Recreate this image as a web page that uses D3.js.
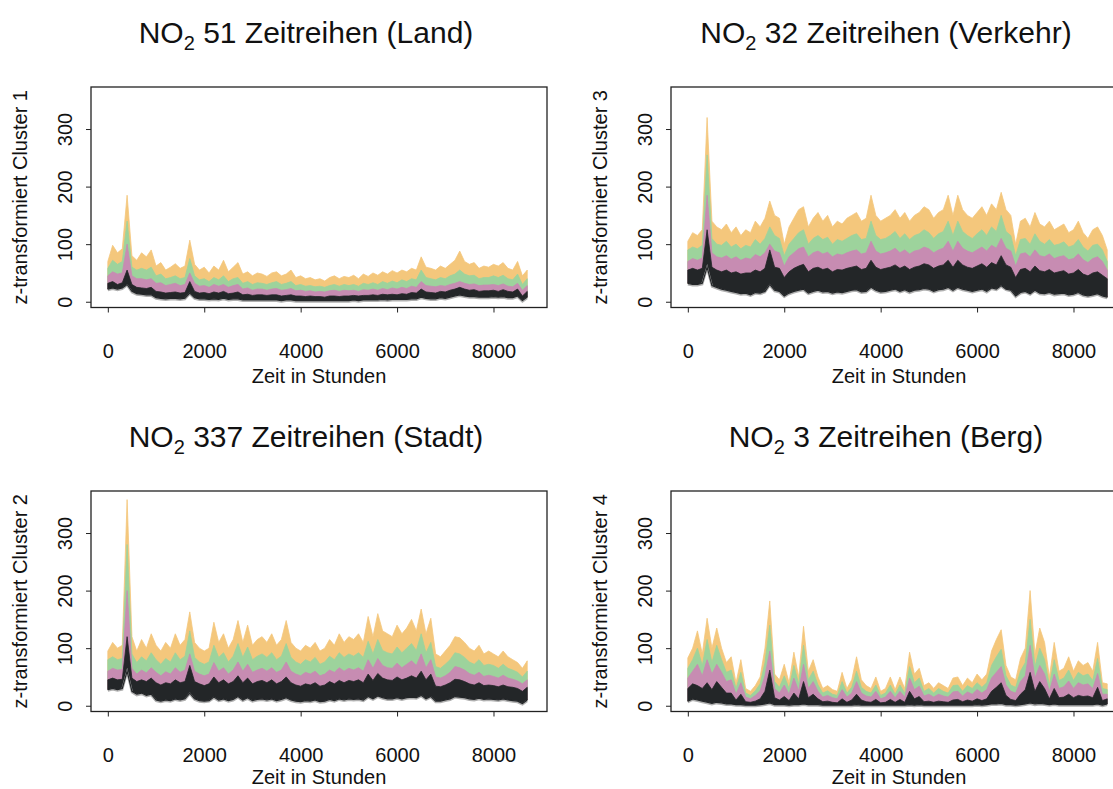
<!DOCTYPE html>
<html>
<head>
<meta charset="utf-8">
<script src="https://cdn.jsdelivr.net/npm/d3@7"></script>
<style>
  body { margin: 0; background: #fff; }
  svg { display: block; font-family: "Liberation Sans", Arial, sans-serif; }
</style>
</head>
<body>
<div id="chart"></div>
<script>
// hourly index, sampled every 100 hours
const hours = d3.range(0, 8800, 100)
const xTicks = [0, 2000, 4000, 6000, 8000]
const yTicks = [0, 100, 200, 300]

// Cluster 1 (Land)
const land_lo  = [22,24,22,24,30,18,14,13,12,12, 7,6,5,6,6,5,6,15,7,5, 5,4,5,4,6,4,5,5,3,3, 3,3,3,3,3,3,2,3,3,2, 2,2,2,2,2,2,2,2,2,2, 2,3,2,3,3,3,3,4,3,4, 4,4,4,5,5,8,6,5,5,7, 6,8,10,12,10,9,9,8,8,8, 9,8,9,7,7,10,2,8]
const land_blk = [32,35,30,33,55,30,25,24,23,25, 18,17,15,16,17,15,16,35,18,15, 16,14,17,15,18,14,15,17,12,13, 11,12,12,11,12,12,10,11,12,10, 10,9,10,9,9,8,10,10,9,10, 10,11,10,11,11,12,11,13,12,13, 12,14,13,16,15,22,17,16,15,18, 17,20,22,25,22,20,21,18,19,19, 20,18,21,18,17,22,10,18]
const land_pnk = [45,52,48,50,100,45,40,40,38,40, 32,33,28,30,32,28,30,50,32,27, 28,25,30,27,30,25,28,30,22,24, 20,22,22,20,22,23,20,21,23,19, 20,18,19,17,18,17,19,20,18,20, 19,20,18,21,20,22,20,23,21,24, 22,25,23,27,25,35,28,27,26,28, 27,30,32,35,32,30,31,28,29,29, 30,28,31,27,26,32,20,28]
const land_grn = [58,72,65,70,140,60,55,58,55,60, 45,48,40,42,45,40,42,75,45,38, 40,35,42,38,45,35,40,42,32,35, 30,33,32,30,33,35,30,32,35,28, 30,27,28,26,27,25,28,30,27,30, 28,30,27,32,30,33,30,35,32,36, 33,38,35,40,38,55,42,40,38,42, 40,45,48,55,48,45,46,40,42,42, 45,42,46,40,38,48,30,40]
const land_org = [70,98,85,92,185,80,72,85,78,90, 62,68,55,60,66,58,62,107,65,55, 60,50,62,55,72,52,60,68,48,52, 45,50,48,44,50,52,45,48,55,42, 45,40,42,38,40,36,42,45,40,44, 42,46,40,48,44,50,46,52,48,54, 50,55,52,58,55,78,60,58,55,62, 58,65,72,88,70,65,68,58,62,60, 65,62,68,58,55,70,45,55]

// Cluster 3 (Verkehr)
const verk_lo  = [32,30,30,32,60,28,25,22,20,18, 16,14,15,12,16,15,18,30,20,18, 10,15,18,20,22,15,18,20,17,18, 15,17,16,18,20,21,17,18,25,20, 17,18,20,22,18,21,17,20,21,23, 22,18,21,22,25,20,25,22,20,18, 20,22,18,24,22,28,22,20,10,16, 18,14,20,15,14,16,13,14,15,12, 13,16,12,10,12,14,10,8]
const verk_blk = [55,58,55,58,125,60,55,52,55,50, 52,48,50,50,55,52,58,90,60,58, 42,52,58,62,65,52,58,60,56,58, 52,56,55,58,60,62,56,58,72,60, 56,58,60,64,58,62,56,60,62,66, 64,58,62,64,72,60,72,64,60,58, 62,66,60,68,64,80,64,60,42,56, 58,52,62,54,52,56,50,52,54,48, 50,56,48,45,50,52,46,40]
const verk_pnk = [70,75,72,76,185,85,78,76,80,74, 78,72,76,74,82,78,85,100,88,85, 62,78,85,92,95,78,85,88,83,86, 78,83,81,85,88,90,83,85,105,88, 83,85,88,93,85,90,83,88,90,95, 92,85,90,93,105,88,105,93,88,85, 90,95,88,98,93,110,93,88,62,83, 85,78,90,80,78,83,75,78,80,73, 75,83,73,68,75,78,70,55]
const verk_grn = [90,95,92,98,255,110,100,98,105,95, 100,92,98,95,108,100,110,130,115,110, 80,100,110,120,125,100,110,115,108,112, 100,108,105,110,115,118,108,110,140,115, 108,110,115,122,110,118,108,115,118,125, 120,110,118,122,140,115,140,122,115,110, 118,125,115,130,122,150,122,115,80,108, 110,100,118,105,100,108,98,100,104,95, 98,108,95,88,98,100,90,70]
const verk_org = [105,120,115,125,320,140,130,125,135,120, 130,115,125,120,140,130,145,175,150,145, 100,130,145,160,165,130,145,155,140,150, 130,140,135,145,150,155,140,145,185,150, 140,145,150,160,145,155,140,150,155,165, 160,145,155,160,185,150,185,160,150,145, 155,165,150,170,160,190,160,150,100,140, 145,130,155,135,130,140,125,130,135,120, 125,140,120,110,125,130,115,90]

// Cluster 2 (Stadt)
const stadt_lo  = [28,30,28,30,60,25,20,22,18,20, 10,8,10,9,12,10,12,22,12,9, 8,9,15,10,12,9,11,16,10,14, 9,11,12,10,12,9,11,14,10,8, 7,9,8,10,7,8,11,9,12,10, 12,11,12,10,16,12,17,14,12,12, 14,12,14,15,14,18,12,16,8,8, 10,12,16,15,14,12,11,13,11,12, 11,10,12,10,9,8,4,10]
const stadt_blk = [45,48,45,46,120,48,42,45,42,48, 40,36,40,38,45,40,42,70,42,38, 35,38,50,40,45,38,42,52,40,48, 38,42,44,40,45,38,42,50,40,36, 34,38,36,40,34,36,42,38,44,40, 44,42,45,40,55,44,56,48,45,44, 50,45,48,52,48,60,45,55,34,33, 36,40,46,45,42,38,36,40,35,36, 35,33,36,33,32,30,25,32]
const stadt_pnk = [60,65,62,63,200,65,55,62,57,66, 58,52,59,55,66,58,62,90,60,55, 52,55,75,60,66,55,62,76,60,72, 58,62,65,60,66,58,62,76,60,55, 52,58,55,60,52,55,62,58,66,60, 65,62,66,60,80,65,82,70,66,65, 74,66,72,78,70,90,66,80,50,48, 52,58,68,66,62,56,53,58,51,53, 51,48,53,48,46,43,38,45]
const stadt_grn = [80,85,80,82,280,90,75,85,78,92, 80,72,82,76,92,80,86,130,84,76, 72,76,105,84,92,76,86,108,84,102, 80,86,90,84,92,80,86,108,84,76, 72,80,76,84,72,76,86,80,92,84, 90,86,92,84,112,90,115,96,92,90, 102,92,100,108,96,125,92,110,68,65, 72,80,92,90,84,76,72,80,70,72, 70,65,72,65,62,58,50,60]
const stadt_org = [95,110,100,105,358,120,95,115,100,125, 105,95,110,100,125,105,115,163,110,100, 95,100,145,110,125,100,115,148,110,140, 105,115,120,110,125,105,115,148,110,100, 95,105,100,110,95,100,115,105,125,110, 120,115,125,110,155,120,160,130,125,120, 140,125,135,150,130,168,125,152,90,85, 95,105,120,118,110,100,95,105,90,95, 90,85,95,85,80,75,65,78]

// Cluster 4 (Berg)
const berg_lo  = [8,12,10,8,6,4,6,5,3,3, 2,2,1,1,1,2,3,5,2,2, 2,1,2,2,3,2,2,2,1,1, 1,1,1,1,1,2,1,1,1,1, 1,1,1,1,1,1,2,1,2,1, 1,1,1,1,1,1,1,1,1,1, 2,1,2,3,3,4,2,2,1,2, 3,5,3,4,3,2,3,2,2,2, 2,2,2,2,2,3,1,3]
const berg_blk = [30,38,35,30,40,28,42,32,22,22, 10,20,7,6,8,12,25,62,14,10, 16,9,22,12,42,14,20,12,7,8, 6,5,12,6,10,20,10,7,6,11, 5,6,11,6,11,6,25,12,16,7, 8,6,8,7,6,10,11,7,10,8, 12,9,12,25,32,40,18,11,9,20, 28,58,25,42,30,12,30,14,15,20, 14,18,16,17,14,32,9,12]
const berg_pnk = [48,60,72,52,80,55,72,58,42,45, 20,40,15,12,18,26,52,95,30,22, 36,20,48,26,72,30,42,25,15,18, 14,12,28,15,22,42,22,17,15,25, 12,15,25,14,25,15,48,28,34,17, 20,15,20,17,15,24,25,17,24,20, 28,22,28,48,58,68,36,25,22,42, 52,105,48,70,55,25,55,30,33,43, 30,40,36,38,30,56,20,20]
const berg_grn = [65,80,100,70,115,75,105,80,58,62, 30,58,22,18,26,38,75,140,42,32, 52,30,70,38,105,45,60,36,22,26, 20,18,42,22,32,60,32,25,22,36, 18,22,36,20,36,22,68,40,48,25, 30,22,30,25,22,35,36,25,35,30, 40,32,40,70,85,98,52,36,32,60, 75,150,68,100,80,36,80,44,48,62, 44,58,52,55,44,82,30,28]
const berg_org = [83,100,130,90,152,100,135,100,75,85, 40,80,30,25,35,50,100,182,55,45, 72,40,93,50,138,60,80,50,30,35, 28,25,58,30,45,85,45,35,30,50, 25,30,50,28,50,30,93,55,65,35, 40,30,40,35,30,48,50,35,48,40, 55,45,55,95,115,132,70,50,45,82, 100,200,90,135,110,50,110,60,65,85, 60,78,70,75,60,110,40,38]

const titles = [
    ["51 Zeitreihen (Land)", "32 Zeitreihen (Verkehr)"],
    ["337 Zeitreihen (Stadt)", "3 Zeitreihen (Berg)"]
]
const ylabels = [
    ["z-transformiert Cluster 1", "z-transformiert Cluster 3"],
    ["z-transformiert Cluster 2", "z-transformiert Cluster 4"]
]

const width = 1113
const height = 789
const colors = { org: "#f4c77c", grn: "#9dd39c", pnk: "#c78cb2", blk: "#232628", halo: "#b0b0b0" }

const panels = [
    { row: 0, col: 0, lo: land_lo,  blk: land_blk,  pnk: land_pnk,  grn: land_grn,  org: land_org },
    { row: 0, col: 1, lo: verk_lo,  blk: verk_blk,  pnk: verk_pnk,  grn: verk_grn,  org: verk_org },
    { row: 1, col: 0, lo: stadt_lo, blk: stadt_blk, pnk: stadt_pnk, grn: stadt_grn, org: stadt_org },
    { row: 1, col: 1, lo: berg_lo,  blk: berg_blk,  pnk: berg_pnk,  grn: berg_grn,  org: berg_org }
]

const boxLeft = 91, boxRight = 547, boxTop = 87, boxBottom = 307.5
const colStep = 580, rowStep = 404
const fontSize = 20       // axis text
const titleSize = 30      // main titles

const svg = d3.select("#chart")
    .append("svg")
    .attr("width", width)
    .attr("height", height)
    .attr("viewBox", [0, 0, width, height])

panels.forEach((p, i) => {
    const dx = p.col * colStep
    const dy = p.row * rowStep
    const x = d3.scaleLinear([-349, 9110], [boxLeft + dx, boxRight + dx])
    const y = d3.scaleLinear([-10, 373], [boxBottom + dy, boxTop + dy])

    const g = svg.append("g")

    const band = key => d3.area()
        .x((d, j) => x(hours[j]))
        .y0((d, j) => y(p.lo[j]))
        .y1((d, j) => y(p[key][j]))

    // bands, widest first
    ;["org", "grn", "pnk", "blk"].forEach(key => {
        g.append("path")
            .datum(p[key])
            .attr("fill", colors[key])
            .attr("stroke", colors[key])
            .attr("stroke-width", 0.8)
            .attr("stroke-linejoin", "round")
            .attr("d", band(key))
    })

    // grey halo and lower edge of the black band
    const lower = d3.line().x((d, j) => x(hours[j])).y(d => y(d))
    g.append("path")
        .datum(p.lo)
        .attr("fill", "none")
        .attr("stroke", colors.halo)
        .attr("stroke-width", 2.2)
        .attr("transform", "translate(0,1)")
        .attr("d", lower)
    g.append("path")
        .datum(p.lo)
        .attr("fill", "none")
        .attr("stroke", colors.blk)
        .attr("stroke-width", 1.2)
        .attr("d", lower)

    // box
    g.append("rect")
        .attr("x", boxLeft + dx)
        .attr("y", boxTop + dy)
        .attr("width", boxRight - boxLeft)
        .attr("height", boxBottom - boxTop)
        .attr("fill", "none")
        .attr("stroke", "#222")
        .attr("stroke-width", 1.3)

    // x axis
    g.append("g")
        .attr("transform", `translate(0,${boxBottom + dy})`)
        .call(d3.axisBottom(x).tickValues(xTicks).tickSize(5).tickFormat(d3.format("d")))
        .call(a => a.select(".domain").remove())
        .call(a => a.selectAll("line").attr("stroke", "#222"))
        .call(a => a.selectAll("text")
            .attr("y", 50.5)
            .attr("dy", null)
            .attr("fill", "#111")
            .attr("font-size", fontSize)
            .attr("font-family", null))

    // y axis, labels parallel to the axis
    g.append("g")
        .attr("transform", `translate(${boxLeft + dx},0)`)
        .call(d3.axisLeft(y).tickValues(yTicks).tickSize(5))
        .call(a => a.select(".domain").remove())
        .call(a => a.selectAll("line").attr("stroke", "#222"))
        .call(a => a.selectAll("text")
            .attr("x", null)
            .attr("dy", null)
            .attr("text-anchor", "middle")
            .attr("transform", "translate(-19,0) rotate(-90)")
            .attr("fill", "#111")
            .attr("font-size", fontSize)
            .attr("font-family", null))

    // axis titles
    g.append("text")
        .attr("x", (boxLeft + boxRight) / 2 + dx)
        .attr("y", Math.min(383 + dy, 784))
        .attr("text-anchor", "middle")
        .attr("font-size", fontSize)
        .attr("fill", "#111")
        .text("Zeit in Stunden")

    g.append("text")
        .attr("transform", `translate(${27 + dx},${(boxTop + boxBottom) / 2 + dy}) rotate(-90)`)
        .attr("text-anchor", "middle")
        .attr("font-size", fontSize)
        .attr("fill", "#111")
        .text(ylabels[p.row][p.col])

    // main title with NO2 subscript
    const t = g.append("text")
        .attr("x", (boxLeft + boxRight) / 2 - 13 + dx)
        .attr("y", 43 + dy)
        .attr("text-anchor", "middle")
        .attr("font-size", titleSize)
        .attr("fill", "#111")
    t.append("tspan").text("NO")
    t.append("tspan").attr("font-size", 20).attr("dy", 7).text("2")
    t.append("tspan").attr("dy", -7).text(" " + titles[p.row][p.col])
})
</script>
</body>
</html>
